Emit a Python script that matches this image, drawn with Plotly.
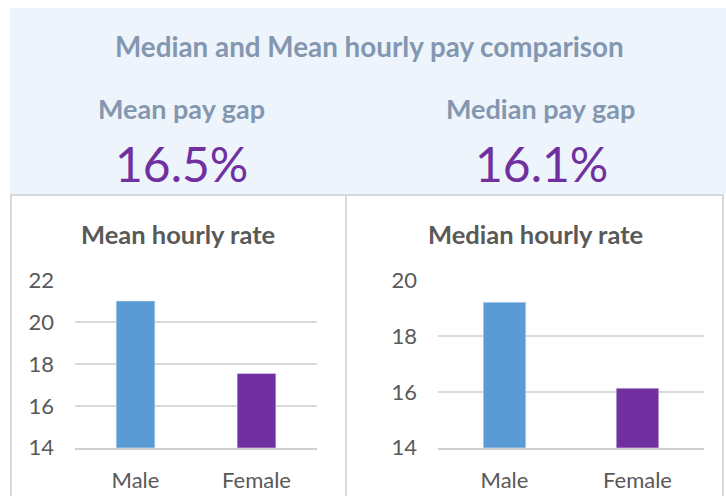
import plotly.graph_objects as go

W, H = 726, 496

categories = ["Male", "Female"]
mean_values = [21.03, 17.56]
median_values = [19.23, 16.14]
bar_colors = ["#5B9BD5", "#7030A0"]

header_title = "Median and Mean hourly pay comparison"
gap_labels = ["Mean pay gap", "Median pay gap"]
gap_values = ["16.5%", "16.1%"]
panel_titles = ["Mean hourly rate", "Median hourly rate"]
mean_ticks = [14, 16, 18, 20, 22]
median_ticks = [14, 16, 18, 20]

FONT = "Lato, Carlito, Calibri, sans-serif"


def px(x):
    return x / W


def py(y):
    return 1 - y / H


fig = go.Figure()
fig.add_trace(go.Bar(x=categories, y=mean_values, marker_color=bar_colors,
                     width=0.32, xaxis="x", yaxis="y", showlegend=False))
fig.add_trace(go.Bar(x=categories, y=median_values, marker_color=bar_colors,
                     width=0.32, xaxis="x2", yaxis="y2", showlegend=False))

grid = "#D9D9D9"
tick_font = dict(family=FONT, size=22, color="#595959")

ydom = [py(447.7), py(280.7)]
fig.update_layout(
    width=W, height=H,
    margin=dict(l=0, r=0, t=0, b=0, pad=0, autoexpand=False),
    showlegend=False,
    paper_bgcolor="white", plot_bgcolor="rgba(0,0,0,0)",
    xaxis=dict(domain=[px(75), px(317)], anchor="y", showgrid=False,
               showline=True, linecolor="#D0D0D0", linewidth=1.5, automargin=False,
               tickfont=tick_font, ticks="", ticklabelstandoff=12,
               fixedrange=True),
    yaxis=dict(domain=ydom, anchor="x", range=[14, 22], tickvals=mean_ticks,
               showgrid=True, gridcolor=grid, gridwidth=1.5, zeroline=False,
               showline=False, tickfont=tick_font, ticks="", automargin=False,
               ticklabelstandoff=20, fixedrange=True),
    xaxis2=dict(domain=[px(438), px(704)], anchor="y2", showgrid=False,
                showline=True, linecolor="#D0D0D0", linewidth=1.5, automargin=False,
                tickfont=tick_font, ticks="", ticklabelstandoff=12,
                fixedrange=True),
    yaxis2=dict(domain=ydom, anchor="x2", range=[14, 20], tickvals=median_ticks,
                showgrid=True, gridcolor=grid, gridwidth=1.5, zeroline=False,
                showline=False, tickfont=tick_font, ticks="", automargin=False,
                ticklabelstandoff=20, fixedrange=True),
)

# header background and panel borders
shapes = [
    dict(type="rect", xref="paper", yref="paper", x0=px(10), x1=px(726),
         y0=py(194), y1=py(8), fillcolor="#EEF4FB", line_width=0, layer="below"),
    dict(type="line", xref="paper", yref="paper", x0=px(10), x1=px(724),
         y0=py(195), y1=py(195), line=dict(color=grid, width=2)),
    dict(type="line", xref="paper", yref="paper", x0=px(11), x1=px(11),
         y0=py(195), y1=0, line=dict(color=grid, width=2)),
    dict(type="line", xref="paper", yref="paper", x0=px(346), x1=px(346),
         y0=py(195), y1=0, line=dict(color=grid, width=2)),
    dict(type="line", xref="paper", yref="paper", x0=px(723), x1=px(723),
         y0=py(195), y1=0, line=dict(color=grid, width=2)),
]
fig.update_layout(shapes=shapes)

ann = []
ann.append(dict(text=header_title, x=px(369), y=py(46), xref="paper", yref="paper",
                showarrow=False, xanchor="center", yanchor="middle",
                font=dict(family=FONT, size=27.8, color="#8497B0", weight="bold")))
for cx, lab, val in zip([181, 540], gap_labels, gap_values):
    ann.append(dict(text=lab, x=px(cx), y=py(108), xref="paper", yref="paper",
                    showarrow=False, xanchor="center", yanchor="middle",
                    font=dict(family=FONT, size=27, color="#8497B0", weight="bold")))
    ann.append(dict(text=val, x=px(cx + 1), y=py(163), xref="paper", yref="paper",
                    showarrow=False, xanchor="center", yanchor="middle",
                    font=dict(family=FONT, size=48, color="#7030A0")))
for cx, t in zip([178, 535], panel_titles):
    ann.append(dict(text=t, x=px(cx), y=py(234), xref="paper", yref="paper",
                    showarrow=False, xanchor="center", yanchor="middle",
                    font=dict(family=FONT, size=25.5, color="#595959", weight="bold")))
fig.update_layout(annotations=ann)

fig.write_html("out.html", config={"displayModeBar": False},
               post_script="document.body.style.margin='0';")
